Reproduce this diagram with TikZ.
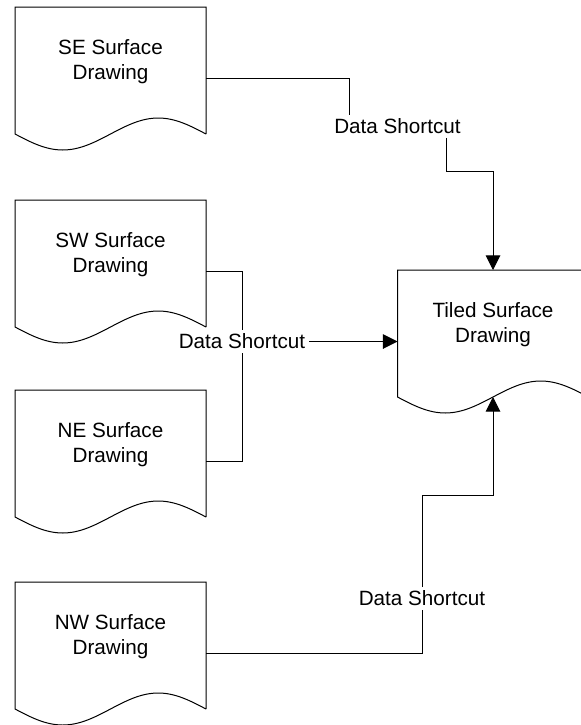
\documentclass[tikz,border=0pt]{standalone}
\usepackage{fontspec}
\setmainfont{Liberation Sans}
\usetikzlibrary{calc,arrows.meta}

\begin{document}
\begin{tikzpicture}[x=0.75pt,y=-0.75pt,line width=0.75pt,
  doc node/.style={rectangle,outer sep=0pt,minimum width=143.25pt,
    minimum height=81.75pt,align=center,font=\fontsize{15.5}{18.8}\selectfont},
  link node/.style={rectangle,inner sep=2.5pt,font=\fontsize{15.5}{18.8}\selectfont},
  feed/.style={-{Triangle[length=11pt,width=11pt]}}]
  \useasboundingbox (0,0) rectangle (581,725);

  \node[doc node] (se) at (110.5,61.5) {SE Surface\\Drawing};
  \node[doc node] (sw) at (110.5,254.5) {SW Surface\\Drawing};
  \node[doc node] (ne) at (110.5,444.5) {NE Surface\\Drawing};
  \node[doc node] (nw) at (110.5,636.5) {NW Surface\\Drawing};
  \node[doc node] (tiled) at (493,324.5) {Tiled Surface\\Drawing};

  % page outline with the wavy bottom edge
  \foreach \d in {se,sw,ne,nw,tiled}
    \draw ($(\d.south east)+(0,18)$) -- (\d.north east) -- (\d.north west)
      -- ($(\d.south west)+(0,18)$) sin ++(47.75,16) cos ++(47.75,-16)
      sin ++(47.75,-16) cos ++(47.75,16);

  \node[link node] (ds1) at (397.5,126.5) {Data Shortcut};
  \node[link node] (ds2) at (242,341.5) {Data Shortcut};
  \node[link node] (ds3) at (422,598.5) {Data Shortcut};

  \draw ($(se.east)+(0,17)$) -| ($(ds1.north)+(-48.5,0)$);
  \draw[feed] ($(ds1.south)+(48.5,0)$) -- ++(0,34) -| (tiled.north);
  \draw ($(sw.east)+(0,17)$) -| (ds2.north);
  \draw ($(ne.east)+(0,17)$) -| (ds2.south);
  \draw[feed] (ds2.east) -- ($(tiled.west)+(0,17)$);
  \draw ($(nw.east)+(0,17)$) -| (ds3.south);
  \draw[feed] (ds3.north) -- ++(0,-92) -| ($(tiled.south)+(0,18)$);
\end{tikzpicture}
\end{document}
